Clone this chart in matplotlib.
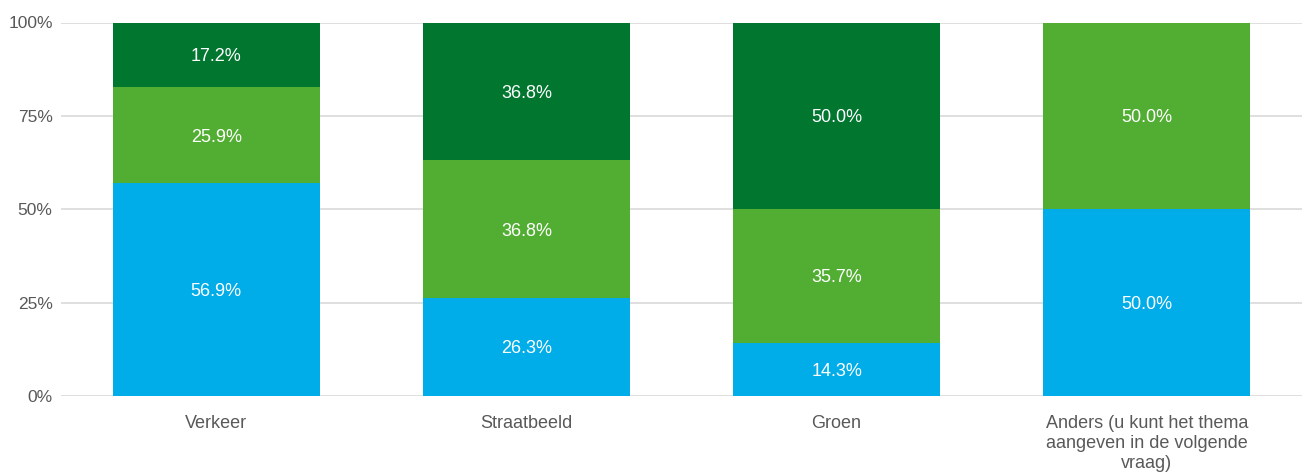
import numpy as np
import matplotlib.pyplot as plt

plt.rcParams['font.family'] = ['Liberation Sans', 'DejaVu Sans']

categories = ["Verkeer", "Straatbeeld", "Groen",
              "Anders (u kunt het thema\naangeven in de volgende\nvraag)"]
blue_vals = [56.9, 26.3, 14.3, 50.0]
light_green_vals = [25.9, 36.8, 35.7, 50.0]
dark_green_vals = [17.2, 36.8, 50.0, 0.0]

colors = ["#00ADE8", "#52AE32", "#00762F"]

fig = plt.figure(figsize=(13.02, 4.76), dpi=100)
ax = fig.add_axes([61 / 1302, 1 - 396 / 476, 1 - 61 / 1302, (396 - 22.5) / 476])

x = np.arange(len(categories))
width = 0.667
bottom = np.zeros(len(categories))
for vals, col in zip([blue_vals, light_green_vals, dark_green_vals], colors):
    vals = np.array(vals)
    ax.bar(x, vals, width, bottom=bottom, color=col, zorder=2)
    for xi, v, b in zip(x, vals, bottom):
        if v > 0:
            ax.text(xi, b + v / 2, f"{v:.1f}%", ha="center", va="center_baseline",
                    color="white", fontsize=13, zorder=3)
    bottom += vals

ax.set_xlim(-0.5, len(categories) - 0.5)
ax.set_ylim(0, 100)
ax.set_yticks([0, 25, 50, 75, 100])
ax.set_yticklabels(["0%", "25%", "50%", "75%", "100%"])
ax.set_xticks(x)
ax.set_xticklabels(categories, linespacing=1.2)
ax.tick_params(axis="both", length=0, colors="#595959", labelsize=13)
ax.tick_params(axis="y", pad=6, labelsize=12.5)
ax.tick_params(axis="x", pad=14)
ax.yaxis.grid(True, color="#d9d9d9", linewidth=1.2, zorder=0)
ax.set_axisbelow(True)
for s in ax.spines.values():
    s.set_visible(False)

fig.savefig("out.png", dpi=100)
